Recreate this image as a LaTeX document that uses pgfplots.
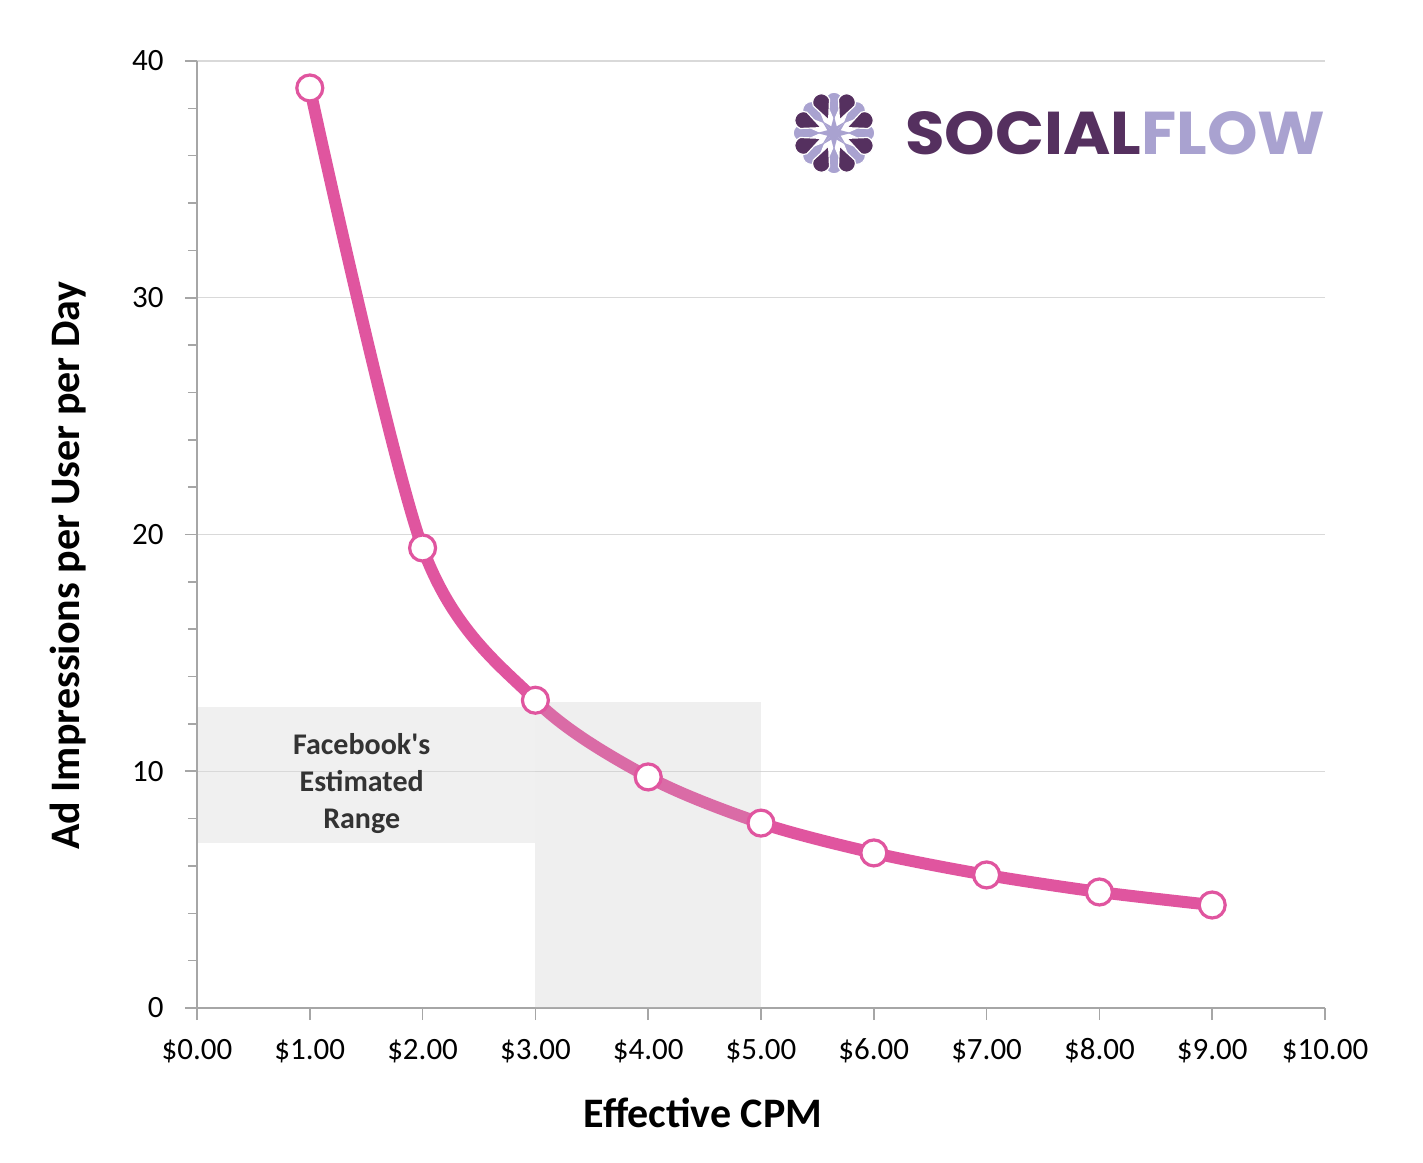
\documentclass[border=0pt]{standalone}
\usepackage{fontspec}
\setmainfont{Carlito}
\newfontfamily\logofont{Poppins}
\usepackage{graphicx}
\usepackage{pgfplots}
\pgfplotsset{compat=1.18}
\definecolor{pinkline}{HTML}{E0559F}
\definecolor{rangegray}{HTML}{F0F0F0}
\definecolor{rangegrayb}{HTML}{FAFAFA}
\definecolor{gridgray}{HTML}{D9D9D9}
\definecolor{axgray}{HTML}{A6A6A6}
\definecolor{darkpurple}{HTML}{55305F}
\definecolor{lightpurple}{HTML}{A9A2D0}
\definecolor{tintgray}{HTML}{C6C6C6}
\begin{document}
\begin{tikzpicture}
\begin{axis}[
  set layers,
  at={(0pt,0pt)}, anchor=south west,
  scale only axis, width=564pt, height=473.5pt,
  xmin=0, xmax=10, ymin=0, ymax=40,
  axis lines=left,
  axis line style={-, draw=axgray, line width=1pt},
  xtick={0,1,2,3,4,5,6,7,8,9,10},
  xticklabels={\$0.00,\$1.00,\$2.00,\$3.00,\$4.00,\$5.00,\$6.00,\$7.00,\$8.00,\$9.00,\$10.00},
  ytick={0,10,20,30,40},
  yticklabels={0,10,20,30,40},
  minor y tick num=4,
  tick align=outside,
  major tick length=6pt, minor tick length=4.5pt,
  tick style={draw=axgray, line width=0.8pt},
  ymajorgrids,
  major grid style={draw=gridgray, line width=0.6pt},
  ticklabel style={font=\fontsize{15.5}{18}\selectfont, text=black},
  xticklabel style={anchor=base, yshift=-19.5pt},
  yticklabel style={anchor=east, inner sep=0pt, xshift=-10.5pt},
  /pgf/number format/assume math mode=true,
  clip=false,
]
\begin{pgfonlayer}{axis background}
\fill[rangegray] (axis cs:0,6.98) rectangle (axis cs:3,12.73);
\fill[rangegrayb] (axis cs:3,0) rectangle (axis cs:5,12.94);
\end{pgfonlayer}
\addplot[pinkline, line width=6pt, smooth, tension=0.5, line cap=round,
  mark=*, mark size=6.5pt,
  mark options={fill=white, draw=pinkline, line width=1.6pt}]
  coordinates {(1,38.86)(2,19.43)(3,13.0)(4,9.76)(5,7.81)(6,6.55)(7,5.62)(8,4.90)(9,4.35)};
\fill[tintgray, opacity=0.2] (axis cs:3,0) rectangle (axis cs:5,12.94);
\node[align=center, font=\bfseries\fontsize{15}{18.5}\selectfont, text=black!80] at (axis cs:1.46,9.5) {Facebook\textquotesingle s\\Estimated\\Range};
\end{axis}
% axis titles
\node[anchor=base, font=\bfseries\fontsize{21}{24}\selectfont] at (253pt,-59.5pt) {Effective CPM};
\node[anchor=base, rotate=90, font=\bfseries\fontsize{21}{24}\selectfont] at (-58.5pt,221.25pt) {Ad Impressions per User per Day};
% logo
\begin{scope}[shift={(318.5pt,437.5pt)}]
  \foreach \a in {0,45,...,315} {
    \fill[lightpurple, draw=white, line width=0.6pt, rotate=\a] (6pt,0pt) -- (16pt,4.4pt) arc[start angle=90, end angle=-90, radius=4.4pt] -- cycle;
  }
  \foreach \a in {22.5,67.5,...,337.5} {
    \fill[darkpurple, draw=white, line width=0.6pt, rotate=\a] (7pt,0pt) -- (16.5pt,4.4pt) arc[start angle=90, end angle=-90, radius=4.4pt] -- cycle;
  }
  \foreach \a in {0,45,...,315} {
    \fill[lightpurple, rotate=\a] (0,0) -- (8.5pt,0pt) -- (2.5pt,1.6pt) -- cycle;
    \fill[lightpurple, rotate=\a] (0,0) -- (8.5pt,0pt) -- (2.5pt,-1.6pt) -- cycle;
  }
  \fill[lightpurple] (0,0) circle (3pt);
\end{scope}
\node[anchor=base west, inner sep=0pt] at (354pt,426.5pt) {\resizebox{210pt}{21.5pt}{\logofont\bfseries\textcolor{darkpurple}{SOCIAL}\textcolor{lightpurple}{FLOW}}};
\path (-98.5pt,-77pt) rectangle (613pt,504pt);
\end{tikzpicture}
\end{document}
